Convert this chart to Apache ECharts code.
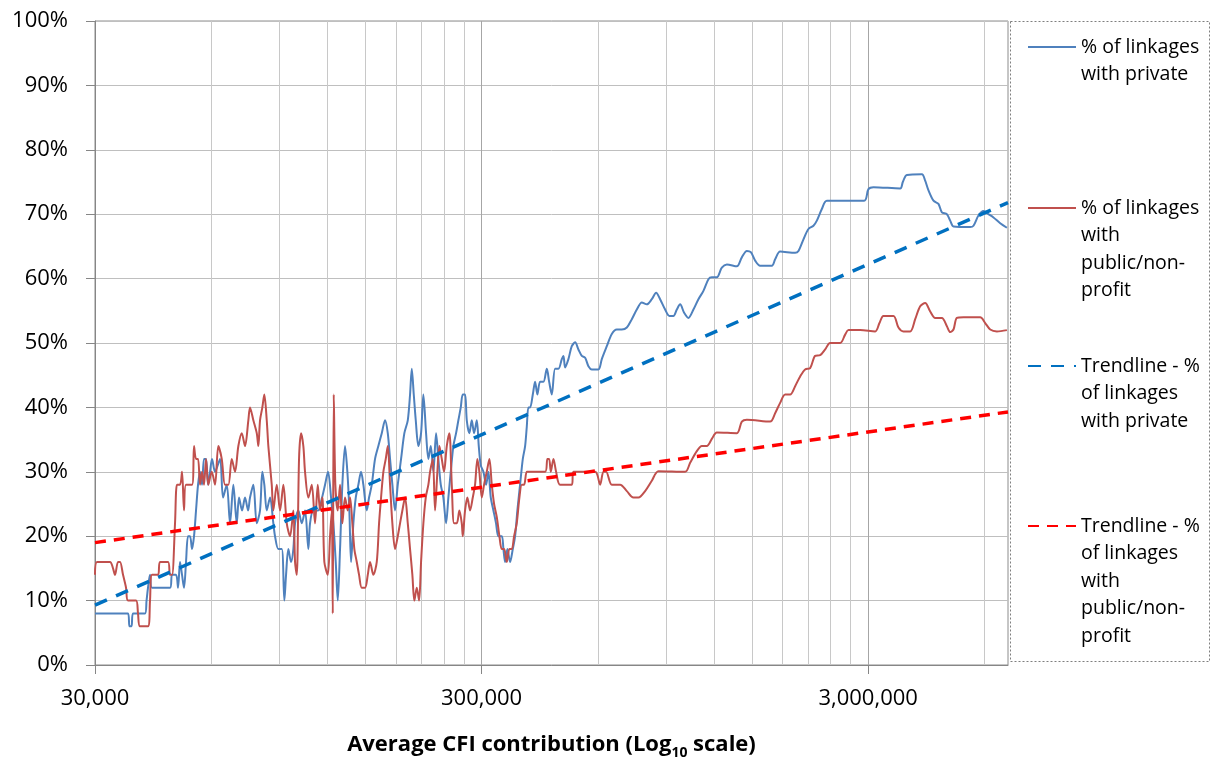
<!DOCTYPE html>
<html>
<head>
<meta charset="utf-8">
<script src="https://cdn.jsdelivr.net/npm/echarts@6/dist/echarts.min.js"></script>
<style>
  html, body { margin: 0; padding: 0; background: #fff; }
  #chart { width: 1211px; height: 761px; }
</style>
</head>
<body>
<div id="chart"></div>
<script>
// [average CFI contribution, % of linkages]
const privateShare = [
  [30000, 8], [36520, 8], [36840, 6], [37290, 6], [37620, 8], [40410, 8], [40780, 10], [41140, 12],
  [41630, 14], [42130, 12], [46900, 12], [47470, 14], [48610, 14], [49200, 12], [49780, 16], [50380, 14],
  [50980, 12], [51590, 16], [52210, 20], [52830, 20], [53470, 18], [54110, 20], [54760, 24], [55420, 28],
  [56080, 30], [56760, 28], [57430, 32], [58120, 32], [58820, 28], [59520, 30], [60240, 32], [61320, 30],
  [63170, 32], [64320, 26], [65750, 28], [67050, 22], [68390, 28], [69790, 22], [70750, 26], [72030, 24],
  [73320, 26], [74650, 24], [75530, 26], [77040, 28], [78620, 22], [80170, 24], [81280, 30], [82250, 28],
  [83440, 24], [85090, 26], [86790, 22], [87660, 20], [89420, 18], [91250, 18], [92670, 10], [93610, 14],
  [94900, 18], [96440, 16], [97770, 18], [98760, 22], [100730, 24], [102790, 22], [104820, 24], [106910, 18],
  [107990, 22], [110140, 24], [113270, 24], [116000, 26], [118080, 28], [120220, 30], [122390, 26], [124080, 22],
  [125860, 16], [127380, 10], [129120, 18], [130910, 28], [133020, 34], [134870, 30], [136480, 24], [137870, 16],
  [139780, 22], [141790, 26], [144010, 28], [146340, 30], [148360, 28], [151400, 24], [153480, 26], [155970, 28],
  [159050, 32], [162220, 34], [165550, 36], [168820, 38], [171570, 36], [173920, 32], [176340, 28], [179180, 24],
  [182110, 28], [185720, 32], [189400, 36], [193290, 38], [195930, 42], [197940, 46], [200310, 42], [202700, 38],
  [205880, 34], [209210, 36], [212100, 42], [215540, 36], [218520, 32], [221650, 34], [225120, 30], [228760, 36],
  [231920, 32], [235250, 28], [238930, 26], [242800, 22], [246160, 26], [249690, 30], [253600, 34], [257710, 36],
  [261270, 38], [265020, 40], [268210, 42], [271880, 42], [274680, 38], [278950, 36], [282980, 38], [286880, 36],
  [291530, 38], [295020, 34], [298560, 31], [303300, 30], [308200, 28], [312400, 30], [316900, 26], [321900, 24],
  [327000, 22], [331600, 20], [338400, 20], [341700, 18], [345100, 16], [349900, 18], [355500, 16], [361300, 18],
  [366300, 20], [371300, 24], [377300, 28], [383500, 32], [388800, 34], [392700, 37], [396500, 40], [400500, 40],
  [407000, 42], [412600, 44], [418300, 42], [425100, 44], [433600, 44], [442400, 46], [448600, 44], [455800, 42],
  [464900, 46], [474100, 46], [483800, 47.5], [488500, 48], [493400, 46.2], [503200, 47.5], [513400, 49.5], [523700, 50.1],
  [534100, 49], [545000, 48], [555900, 47.7], [566900, 46.4], [578400, 45.9], [601700, 45.9], [613900, 47.5], [632500, 49.5],
  [651600, 51.4], [671300, 52.1], [691600, 52.1], [712600, 52.4], [734100, 53.7], [756200, 55.2], [779100, 56.3], [802700, 56],
  [826900, 56.8], [848400, 57.8], [868900, 56.8], [895200, 55.2], [918500, 54.2], [940600, 54.2], [959800, 55.2], [978900, 56],
  [1002500, 54.7], [1028500, 53.9], [1059600, 55.2], [1091600, 56.8], [1124600, 58.1], [1158700, 59.9], [1182200, 60.2], [1218000, 60.2],
  [1254800, 61.7], [1292800, 62.2], [1372100, 61.9], [1413600, 63.3], [1456400, 64.3], [1491600, 64.1], [1530300, 62.8], [1576500, 62],
  [1690200, 62], [1723900, 63], [1776000, 64.2], [1942100, 64], [1980600, 64.3], [2040500, 66.1], [2102100, 67.7], [2165700, 68.2],
  [2209900, 69], [2276600, 70.8], [2345400, 72.1], [2929300, 72.1], [3005000, 73.9], [3096000, 74.2], [3630000, 74], [3688000, 75],
  [3778000, 76.1], [4131000, 76.2], [4213000, 75.2], [4297000, 73.7], [4427000, 72.1], [4560000, 71.6], [4654000, 70.3], [4795000, 70],
  [4890000, 69], [4987000, 68.1], [5509000, 68], [5618000, 68.2], [5787000, 69.8], [5963000, 70.5], [6143000, 70], [6328000, 69.5],
  [6587000, 68.6], [6855000, 67.9]
];

const publicShare = [
  [30000, 14], [30360, 16], [32800, 16], [33400, 15], [33800, 14], [34410, 16], [34820, 16], [35450, 14],
  [36090, 12], [36520, 10], [38300, 10], [38760, 8], [39220, 6], [41140, 6], [41630, 10], [42130, 14],
  [43670, 14], [44190, 16], [46350, 16], [46900, 14], [47470, 14], [48320, 22], [48900, 28], [49780, 28],
  [50380, 30], [50980, 24], [51590, 28], [53470, 28], [54110, 34], [54760, 32], [55420, 32], [56080, 28],
  [56760, 30], [57430, 28], [58120, 32], [58930, 28], [60130, 30], [61320, 28], [62540, 34], [63820, 32],
  [65080, 28], [66380, 28], [67740, 32], [69080, 30], [70460, 34], [71900, 36], [73320, 34], [74780, 38],
  [75530, 40], [77040, 38], [78620, 36], [79370, 34], [80170, 38], [81280, 40], [82250, 42], [83440, 38],
  [84240, 34], [85960, 28], [86790, 24], [88560, 28], [90320, 24], [92120, 28], [94010, 22], [95860, 20],
  [97770, 24], [98760, 16], [99770, 14], [101140, 32], [102360, 36], [103770, 34], [104820, 30], [106910, 26],
  [109100, 28], [111250, 22], [113070, 28], [114620, 24], [116210, 26], [117600, 16], [120010, 14], [121650, 20],
  [122900, 24], [123640, 8], [124370, 42], [125560, 28], [127380, 24], [129120, 28], [130910, 22], [133020, 26],
  [135190, 24], [137040, 26], [138950, 22], [140610, 18], [142640, 16], [144610, 14], [146960, 12], [149860, 12],
  [152310, 14], [154390, 16], [157470, 14], [160690, 16], [162900, 22], [164850, 26], [167130, 30], [169530, 32],
  [171570, 34], [173920, 28], [176340, 22], [179180, 18], [182110, 20], [184600, 22], [187170, 24], [190180, 26],
  [193290, 22], [195930, 18], [198650, 14], [201020, 10], [203920, 12], [206730, 10], [209210, 16], [212100, 22],
  [215150, 26], [218520, 28], [220720, 30], [224320, 32], [227390, 24], [230550, 30], [233300, 34], [236670, 32],
  [239920, 30], [243820, 34], [247620, 36], [251200, 28], [254660, 22], [258790, 22], [262820, 24], [266610, 22],
  [268210, 20], [271880, 24], [275660, 26], [280100, 24], [284670, 26], [288570, 28], [292580, 32], [296070, 30],
  [300400, 26], [304500, 28], [309400, 30], [314300, 32], [318800, 28], [323200, 25], [328400, 23], [333600, 20],
  [338400, 18], [343100, 18], [348600, 16], [354100, 18], [359100, 18], [364100, 20], [369900, 22], [375800, 26],
  [381200, 28], [386500, 28], [392700, 30], [400500, 30], [438000, 30], [444000, 32], [448600, 32], [453100, 30],
  [460200, 32], [467600, 30], [478900, 28], [513400, 28], [518400, 30], [589900, 30], [607800, 28], [619900, 30],
  [629900, 30], [651600, 28], [684700, 28], [712600, 27], [741200, 26], [763500, 26], [794700, 27], [826900, 28.6],
  [860200, 30.1], [1008500, 30], [1039000, 31.4], [1081200, 33.2], [1113800, 34], [1147600, 34], [1182200, 35.1], [1218000, 36.1],
  [1372100, 36], [1413600, 37.8], [1456400, 38.1], [1673300, 37.8], [1723900, 39.1], [1776000, 40.7], [1829700, 42], [1885100, 42],
  [1942100, 43.3], [2000700, 44.8], [2061200, 45.9], [2123500, 46.1], [2187800, 48], [2253900, 48.1], [2322000, 49], [2392200, 50],
  [2539000, 50], [2615800, 51.3], [2667700, 52], [2860300, 52], [3128000, 51.8], [3209000, 53.1], [3286000, 54.2], [3488000, 54.2],
  [3593000, 52.4], [3702000, 51.8], [3853000, 51.8], [3970000, 53.7], [4090000, 55.7], [4213000, 56.2], [4341000, 54.9], [4472000, 53.9],
  [4654000, 53.9], [4795000, 52.6], [4890000, 51.7], [4987000, 52.1], [5089000, 53.9], [5293000, 54], [5847000, 54], [6024000, 53.1],
  [6206000, 52.1], [6458000, 51.8], [6855000, 52]
];

// log trendlines, end points only
const privateTrend = [[30000, 9.3], [6900000, 71.8]];
const publicTrend = [[30000, 19.0], [6900000, 39.3]];

const decadeLabels = ['30,000', '300,000', '3,000,000'];
const minorGridX = [
  60000, 90000, 120000, 150000, 180000, 210000, 240000, 270000,
  600000, 900000, 1200000, 1500000, 1800000, 2100000, 2400000, 2700000,
  6000000
];

const seriesNames = [
  '% of linkages with private',
  '% of linkages with public/non-profit',
  'Trendline - % of linkages with private',
  'Trendline - % of linkages with public/non-profit'
];
const legendText = [
  '% of linkages\nwith private',
  '% of linkages\nwith\npublic/non-\nprofit',
  'Trendline - %\nof linkages\nwith private',
  'Trendline - %\nof linkages\nwith\npublic/non-\nprofit'
];

const FONT = 'Open Sans';
const LH = 27.5;
const legendTops = [5.75, 111.75, 297.25, 402.25];

const chart = echarts.init(document.getElementById('chart'));

const option = {
  animation: false,
  backgroundColor: '#fff',
  grid: {
    left: 95, right: 203, top: 21, bottom: 96,
    show: true, borderColor: '#8c8c8c', borderWidth: 1,
    outerBoundsMode: 'none'
  },
  legend: seriesNames.map((name, i) => {
    const n = legendText[i].split('\n').length;
    // blank lines on top so the icon sits level with the first text line
    const text = '\n'.repeat(n - 1) + legendText[i];
    return {
      data: [name],
      orient: 'vertical',
      left: 1027,
      top: legendTops[i],
      padding: 0,
      itemWidth: 48,
      itemHeight: 14,
      itemStyle: { opacity: 0 },
      formatter: () => text,
      textStyle: { fontFamily: FONT, fontSize: 19.5, lineHeight: LH, color: '#000' }
    };
  }),
  xAxis: [
    {
      // data axis
      type: 'log', logBase: 10, min: 30000, max: 6900000,
      axisLine: { show: false }, axisTick: { show: false },
      axisLabel: { show: false }, splitLine: { show: false }
    },
    {
      // decades counted from 30,000: 1 -> 30,000, 10 -> 300,000, 100 -> 3,000,000
      type: 'log', logBase: 10, min: 1, max: 230, position: 'bottom',
      axisLine: { show: true, lineStyle: { color: '#868686', width: 1 } },
      axisTick: { show: true, length: 9, customValues: [1, 10, 100], lineStyle: { color: '#868686' } },
      splitLine: { show: true, lineStyle: { color: '#a6a6a6', width: 1 } },
      axisLabel: {
        margin: 23, fontFamily: FONT, fontSize: 22, lineHeight: 22, color: '#000',
        formatter: (v) => {
          const k = Math.log10(v);
          return Math.abs(k - Math.round(k)) < 1e-6 ? (decadeLabels[Math.round(k)] || '') : '';
        }
      },
      name: 'Average CFI contribution (Log{sub|10} scale)',
      nameLocation: 'middle',
      nameGap: 65,
      nameTextStyle: {
        fontFamily: FONT, fontWeight: 'bold', fontSize: 22, lineHeight: 30, color: '#000',
        rich: {
          sub: { fontFamily: FONT, fontWeight: 'bold', fontSize: 14, lineHeight: 18, verticalAlign: 'bottom', color: '#000' }
        }
      }
    }
  ],
  yAxis: {
    type: 'value', min: 0, max: 100, interval: 10,
    axisLine: { show: true, lineStyle: { color: '#868686' } },
    axisTick: { show: true, length: 9, lineStyle: { color: '#868686' } },
    axisLabel: { margin: 27, fontFamily: FONT, fontSize: 22, color: '#000', formatter: '{value}%' },
    splitLine: { lineStyle: { color: '#bfbfbf', width: 1 } }
  },
  series: [
    {
      // minor gridlines of the log axis
      type: 'line', xAxisIndex: 0, data: [], silent: true,
      markLine: {
        silent: true, z: 1, symbol: ['none', 'none'],
        label: { show: false },
        lineStyle: { color: '#c8c8c8', width: 1, type: 'solid' },
        emphasis: { disabled: true },
        data: minorGridX.map(v => ({ xAxis: v }))
      }
    },
    {
      name: seriesNames[0], type: 'line', xAxisIndex: 0, data: privateShare,
      symbol: 'none', smooth: 0.3, color: '#4f81bd',
      lineStyle: { color: '#4f81bd', width: 2 }
    },
    {
      name: seriesNames[1], type: 'line', xAxisIndex: 0, data: publicShare,
      symbol: 'none', smooth: 0.3, color: '#c0504d',
      lineStyle: { color: '#c0504d', width: 2 }
    },
    {
      name: seriesNames[2], type: 'line', xAxisIndex: 0, data: privateTrend,
      symbol: 'none', color: '#0070c0',
      lineStyle: { color: '#0070c0', width: 3.5, type: [13, 10] }
    },
    {
      name: seriesNames[3], type: 'line', xAxisIndex: 0, data: publicTrend,
      symbol: 'none', color: '#ff0000',
      lineStyle: { color: '#ff0000', width: 3.5, type: [11, 8] }
    }
  ],
  graphic: [
    {
      type: 'rect', silent: true,
      shape: { x: 1010.5, y: 21.5, width: 199, height: 640 },
      style: { fill: 'none', stroke: '#7f7f7f', lineWidth: 1, lineDash: [2, 2] }
    }
  ]
};

chart.setOption(option);
</script>
</body>
</html>
